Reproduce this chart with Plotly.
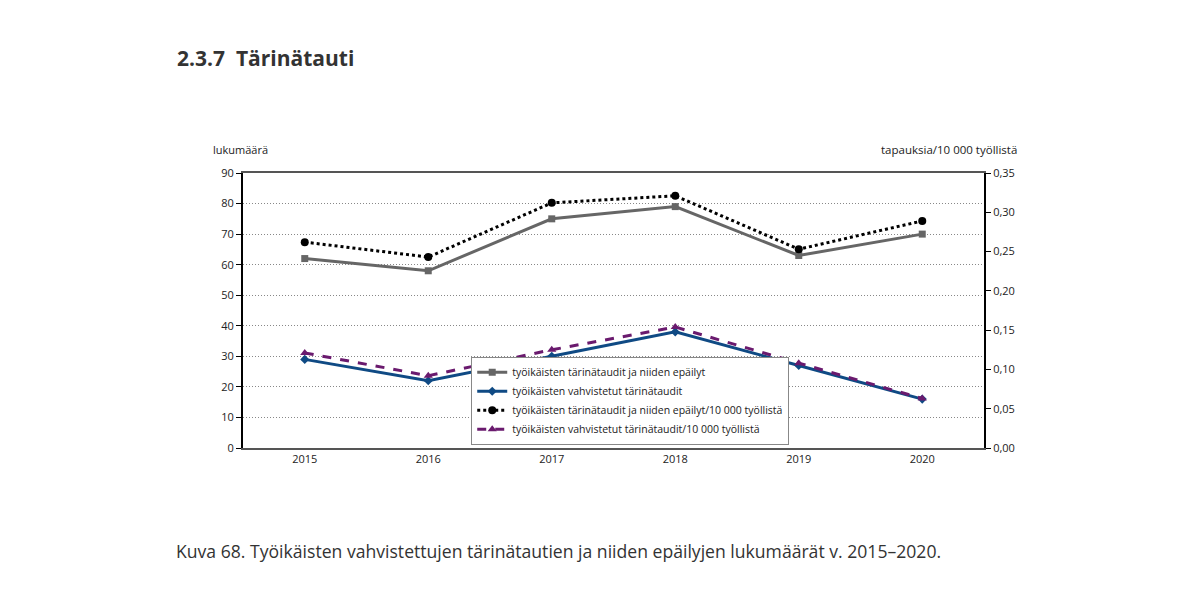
import plotly.graph_objects as go

years = ["2015", "2016", "2017", "2018", "2019", "2020"]
kaikki = [62, 58, 75, 79, 63, 70]
vahvistetut = [29, 22, 30, 38, 27, 16]
kaikki_per = [0.262, 0.243, 0.312, 0.321, 0.253, 0.289]
vahvistetut_per = [0.121, 0.092, 0.125, 0.154, 0.108, 0.063]

names = [
    "työikäisten tärinätaudit ja niiden epäilyt",
    "työikäisten vahvistetut tärinätaudit",
    "työikäisten tärinätaudit ja niiden epäilyt/10 000 työllistä",
    "työikäisten vahvistetut tärinätaudit/10 000 työllistä",
]

fig = go.Figure()
fig.add_trace(go.Scatter(x=years, y=kaikki, name=names[0], mode="lines+markers",
                         line=dict(color="#666666", width=3),
                         marker=dict(symbol="square", size=7, color="#666666")))
fig.add_trace(go.Scatter(x=years, y=vahvistetut, name=names[1], mode="lines+markers",
                         line=dict(color="#0f4a84", width=3),
                         marker=dict(symbol="diamond", size=7, color="#0f4a84")))
fig.add_trace(go.Scatter(x=years, y=kaikki_per, name=names[2], mode="lines+markers", yaxis="y2",
                         line=dict(color="black", width=3, dash="dot"),
                         marker=dict(symbol="circle", size=8, color="black")))
fig.add_trace(go.Scatter(x=years, y=vahvistetut_per, name=names[3], mode="lines+markers", yaxis="y2",
                         line=dict(color="#6a1a6e", width=3, dash="dash"),
                         marker=dict(symbol="triangle-up", size=8, color="#6a1a6e")))

# page has an 8px body margin; target plot area in page pixels: x 243..984, y 173..448
fig.update_layout(
    width=1200, height=603,
    margin=dict(l=235, r=224, t=165, b=163),
    paper_bgcolor="white", plot_bgcolor="white",
    font=dict(family="Open Sans, Noto Sans, sans-serif", size=11, color="#222222"),
    separators=", ",
    showlegend=True,
    legend=dict(x=0.308, y=0.012, xanchor="left", yanchor="bottom",
                bgcolor="white", bordercolor="#888888", borderwidth=1,
                font=dict(size=10.5, color="#222222"), tracegroupgap=0,
                itemwidth=30),
    xaxis=dict(type="category", range=[-0.5, 5.5], showgrid=False,
               showline=True, linecolor="#555555", linewidth=1.5, mirror=True,
               ticks="", tickfont=dict(size=11), fixedrange=True),
    yaxis=dict(range=[0, 90], dtick=10, showgrid=True, gridcolor="#888888", griddash="1px,2px",
               gridwidth=1, showline=True, linecolor="black", linewidth=2,
               ticks="outside", ticklen=5, tickcolor="black", zeroline=False,
               tickfont=dict(size=11)),
    yaxis2=dict(range=[0, 0.35], dtick=0.05, tickformat=".2f", overlaying="y", side="right",
                showgrid=False, showline=True, linecolor="black", linewidth=2,
                ticks="outside", ticklen=5, tickcolor="black", zeroline=False,
                tickfont=dict(size=11)),
)

pw = 741.0
ph = 275.0
def px(xp):
    return (xp - 243) / pw
def py(yp):
    return (448 - yp) / ph

fig.add_annotation(text="<b>2.3.7  Tärinätauti</b>", x=px(175), y=py(58), xref="paper", yref="paper",
                   xanchor="left", yanchor="middle", showarrow=False,
                   font=dict(size=21, color="#333333"))
fig.add_annotation(text="lukumäärä", xref="paper", yref="paper", x=px(211), y=py(150),
                   xanchor="left", yanchor="middle", showarrow=False, font=dict(size=11))
fig.add_annotation(text="tapauksia/10 000 työllistä", xref="paper", yref="paper", x=px(1019), y=py(150),
                   xanchor="right", yanchor="middle", showarrow=False, font=dict(size=11.5))
fig.add_annotation(text="Kuva 68. Työikäisten vahvistettujen tärinätautien ja niiden epäilyjen lukumäärät v. 2015–2020.",
                   xref="paper", yref="paper", x=px(174), y=py(551), xanchor="left", yanchor="middle",
                   showarrow=False, font=dict(size=17.6, color="#333333"))

fig.write_html("out.html")
